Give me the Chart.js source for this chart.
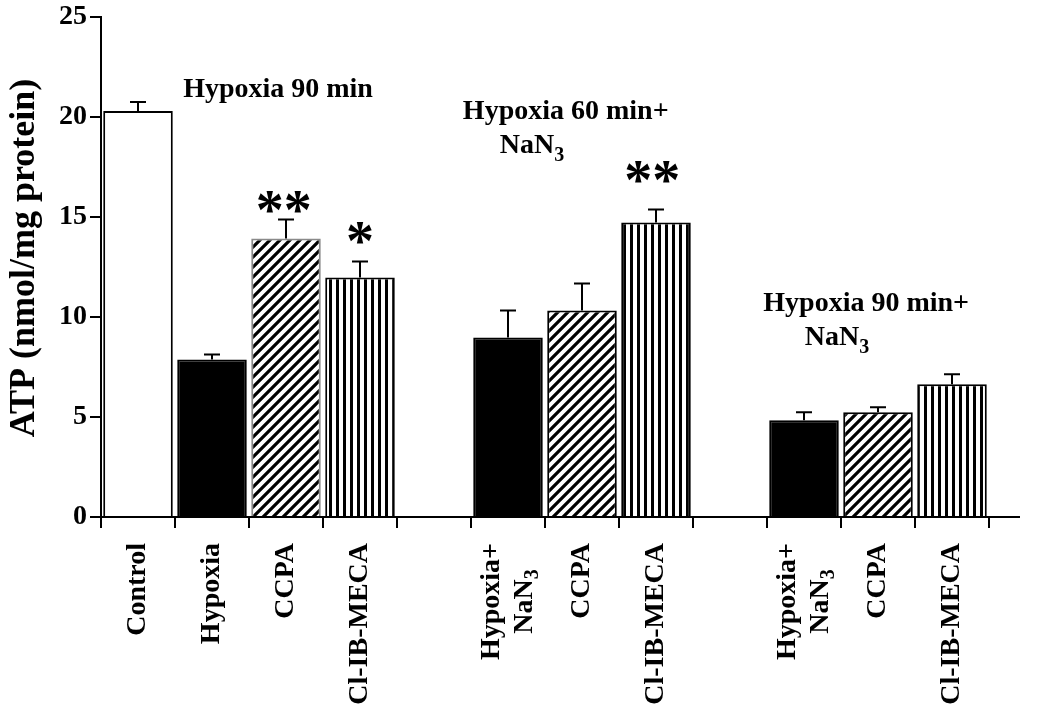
<!DOCTYPE html>
<html>
<head>
<meta charset="utf-8">
<script src="https://cdn.jsdelivr.net/npm/chart.js@4.4.0/dist/chart.umd.min.js"></script>
<style>
  html, body { margin: 0; padding: 0; background: #fff; }
  canvas { display: block; }
</style>
</head>
<body>
<canvas id="atpChart" width="1050" height="704"></canvas>
<script>
// 组别标签（空字符串为组间空位）
const categories = [
  ["Control"], ["Hypoxia"], ["CCPA"], ["Cl-IB-MECA"], [""],
  ["Hypoxia+", "NaN₃"], ["CCPA"], ["Cl-IB-MECA"], [""],
  ["Hypoxia+", "NaN₃"], ["CCPA"], ["Cl-IB-MECA"]
];
// ATP 均值与误差
const atpValues = [20.3, 7.88, 13.92, 11.98, null, 8.98, 10.33, 14.72, null, 4.84, 5.24, 6.64];
const atpErrors = [0.45, 0.25, 0.95, 0.8, null, 1.35, 1.35, 0.65, null, 0.4, 0.25, 0.5];
const fillKinds = ["white", "solid", "hatch", "stripe", null, "solid", "hatch", "stripe", null, "solid", "hatch", "stripe"];
const yTicks = [0, 5, 10, 15, 20, 25];
const yTitle = "ATP (nmol/mg protein)";

// 组说明文字（at = 类别位置，value = y 值）
const groupNotes = [
  { text: "Hypoxia 90 min", at: 0.61, value: 21.0 },
  { text: "Hypoxia 60 min+", at: 4.39, value: 19.9 },
  { text: "NaN₃", at: 4.89, value: 18.2 },
  { text: "Hypoxia 90 min+", at: 8.45, value: 10.3 },
  { text: "NaN₃", at: 9.01, value: 8.6 }
];
// 显著性星号
const stars = [
  { text: "**", at: 1.97, value: 15.77 },
  { text: "*", at: 3, value: 14.2 },
  { text: "**", at: 6.95, value: 17.27 }
];

const FONT = "'Liberation Serif', 'Times New Roman', serif";

// 斜线填充
function makeHatch() {
  const c = document.createElement("canvas");
  c.width = 10; c.height = 10;
  const g = c.getContext("2d");
  g.fillStyle = "#fff"; g.fillRect(0, 0, 10, 10);
  g.strokeStyle = "#000"; g.lineWidth = 3.2;
  g.beginPath();
  g.moveTo(-5, 5); g.lineTo(5, -5);
  g.moveTo(0, 10); g.lineTo(10, 0);
  g.moveTo(5, 15); g.lineTo(15, 5);
  g.stroke();
  return g.createPattern(c, "repeat");
}

// 竖条填充
function makeStripes() {
  const c = document.createElement("canvas");
  c.width = 7; c.height = 7;
  const g = c.getContext("2d");
  g.fillStyle = "#fff"; g.fillRect(0, 0, 7, 7);
  g.fillStyle = "#000"; g.fillRect(0, 0, 3, 7);
  return g.createPattern(c, "repeat");
}

const hatch = makeHatch();
const stripes = makeStripes();
const fills = fillKinds.map((k) => {
  if (k === "white") return "#fff";
  if (k === "solid") return "#000";
  if (k === "hatch") return hatch;
  if (k === "stripe") return stripes;
  return "rgba(0,0,0,0)";
});
const borders = fillKinds.map((k, i) => (i === 2 ? "#8a8a8a" : "#000"));

// 带下标 3 的文字
function richWidth(ctx, text, size) {
  const sub = text.endsWith("₃");
  const main = sub ? text.slice(0, -1) : text;
  ctx.font = `bold ${size}px ${FONT}`;
  let w = ctx.measureText(main).width;
  if (sub) {
    ctx.font = `bold ${Math.round(size * 0.72)}px ${FONT}`;
    w += ctx.measureText("3").width;
  }
  return w;
}

function drawRich(ctx, text, x, y, size) {
  const sub = text.endsWith("₃");
  const main = sub ? text.slice(0, -1) : text;
  ctx.textAlign = "left";
  ctx.font = `bold ${size}px ${FONT}`;
  ctx.fillText(main, x, y);
  if (sub) {
    const w = ctx.measureText(main).width;
    ctx.font = `bold ${Math.round(size * 0.72)}px ${FONT}`;
    ctx.fillText("3", x + w, y + size * 0.3);
  }
}

// 误差线
const errorBars = {
  id: "errorBars",
  afterDatasetsDraw(chart) {
    const { ctx } = chart;
    const y = chart.scales.y;
    const meta = chart.getDatasetMeta(0);
    ctx.save();
    ctx.strokeStyle = "#000";
    ctx.lineWidth = 2;
    meta.data.forEach((bar, i) => {
      if (atpValues[i] == null) return;
      const top = y.getPixelForValue(atpValues[i]);
      const tip = y.getPixelForValue(atpValues[i] + atpErrors[i]);
      ctx.beginPath();
      ctx.moveTo(bar.x, top);
      ctx.lineTo(bar.x, tip);
      ctx.moveTo(bar.x - 8, tip);
      ctx.lineTo(bar.x + 8, tip);
      ctx.stroke();
    });
    ctx.restore();
  }
};

// 说明文字、星号、轴标题、x 轴标签
const textLayer = {
  id: "textLayer",
  afterDraw(chart) {
    const { ctx, chartArea } = chart;
    const x = chart.scales.x;
    const y = chart.scales.y;
    ctx.save();
    ctx.fillStyle = "#000";

    // x 轴线延长
    ctx.strokeStyle = "#000";
    ctx.lineWidth = 2;
    ctx.beginPath();
    ctx.moveTo(chartArea.right - 1, chartArea.bottom);
    ctx.lineTo(chartArea.right + 31, chartArea.bottom);
    ctx.stroke();

    // y 轴标题
    ctx.save();
    ctx.translate(y.left + 25, (y.top + y.bottom) / 2 - 9);
    ctx.rotate(-Math.PI / 2);
    ctx.font = `bold 36px ${FONT}`;
    ctx.textAlign = "center";
    ctx.textBaseline = "middle";
    ctx.fillText(yTitle, 0, 0);
    ctx.restore();

    ctx.textBaseline = "alphabetic";
    groupNotes.forEach((n) => {
      drawRich(ctx, n.text, x.getPixelForValue(n.at), y.getPixelForValue(n.value), 28);
    });

    ctx.font = `bold 56px ${FONT}`;
    ctx.textAlign = "center";
    stars.forEach((s) => {
      const m = ctx.measureText("*");
      const cy = y.getPixelForValue(s.value);
      const base = cy + (m.actualBoundingBoxAscent - m.actualBoundingBoxDescent) / 2;
      ctx.fillText(s.text, x.getPixelForValue(s.at), base);
    });

    // 竖排类别标签
    const size = 28;
    const lh = 33;
    const anchorY = x.top + 26;
    ctx.textBaseline = "middle";
    categories.forEach((lines, i) => {
      if (!lines[0]) return;
      const px = x.getPixelForValue(i);
      const maxW = Math.max(...lines.map((l) => richWidth(ctx, l, size)));
      ctx.save();
      ctx.translate(px, anchorY);
      ctx.rotate(-Math.PI / 2);
      lines.forEach((l, j) => {
        const w = richWidth(ctx, l, size);
        const ly = (j - (lines.length - 1) / 2) * lh;
        drawRich(ctx, l, -maxW / 2 - w / 2, ly, size);
      });
      ctx.restore();
    });
    ctx.restore();
  }
};

new Chart(document.getElementById("atpChart"), {
  type: "bar",
  data: {
    labels: categories.map((l) => l.join(" ")),
    datasets: [
      {
        data: atpValues,
        backgroundColor: fills,
        borderColor: borders,
        borderWidth: 2,
        barPercentage: 0.94,
        categoryPercentage: 1
      }
    ]
  },
  options: {
    responsive: false,
    animation: false,
    devicePixelRatio: 1,
    layout: { padding: { top: 16, right: 61, bottom: 0, left: 0 } },
    plugins: { legend: { display: false }, tooltip: { enabled: false } },
    scales: {
      x: {
        grid: { offset: true, drawOnChartArea: false, color: "#000", lineWidth: 2, tickLength: 11 },
        border: { color: "#000", width: 2 },
        ticks: { display: false },
        afterFit(s) { s.height = 187; }
      },
      y: {
        min: 0,
        max: 25,
        afterBuildTicks(s) { s.ticks = yTicks.map((v) => ({ value: v })); },
        ticks: {
          font: { family: FONT, size: 28, weight: "bold", lineHeight: 1 },
          color: "#000",
          padding: 3
        },
        grid: { drawOnChartArea: false, color: "#000", lineWidth: 2, tickLength: 11 },
        border: { color: "#000", width: 2 },
        afterFit(s) { s.width = 101; }
      }
    }
  },
  plugins: [errorBars, textLayer]
});
</script>
</body>
</html>
